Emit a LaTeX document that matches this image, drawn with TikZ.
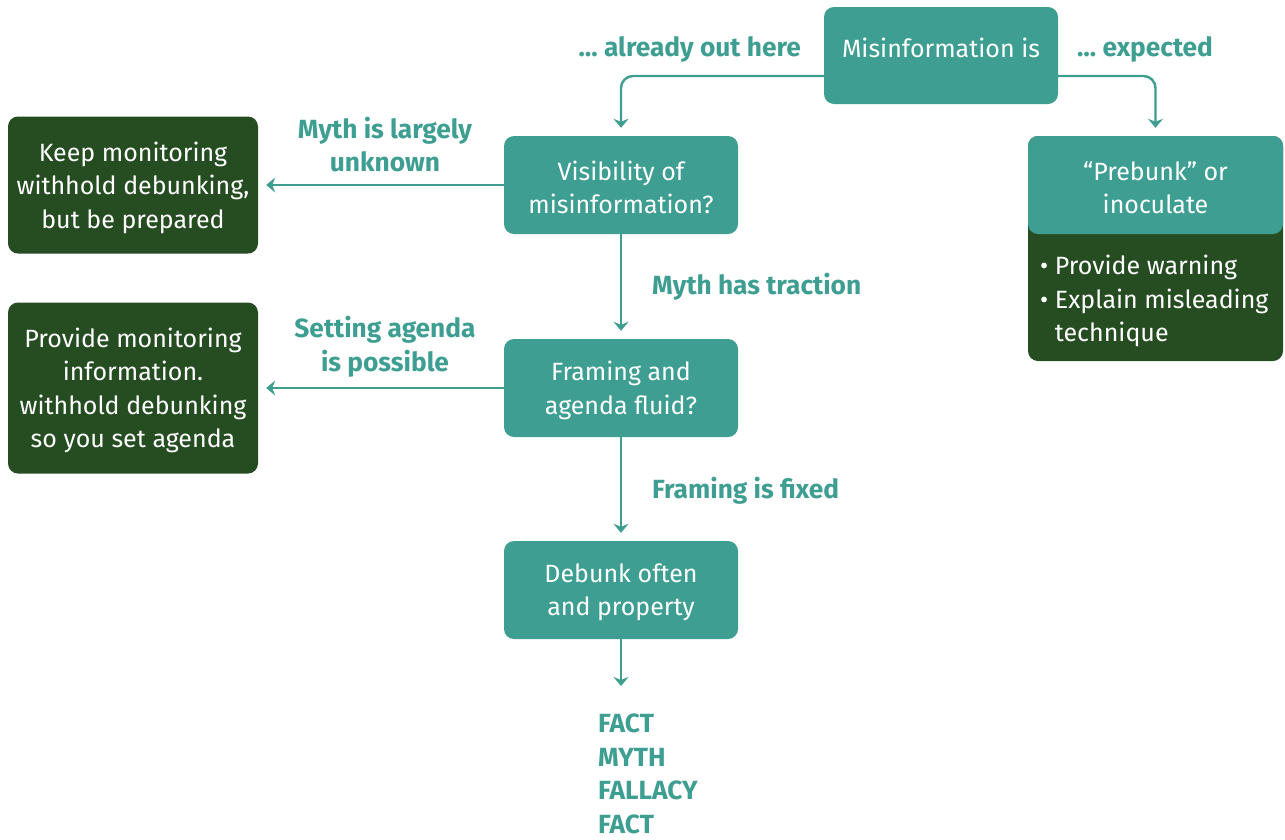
\documentclass[tikz,border=0pt]{standalone}
\usepackage{fontspec}
\setmainfont{Fira Sans}
\usetikzlibrary{arrows.meta}
\definecolor{tealc}{RGB}{61,158,145}
\definecolor{darkg}{RGB}{38,77,34}

\begin{document}
\begin{tikzpicture}[x=1pt,y=-1pt,
  boxfont/.style={font=\fontsize{25}{33.5}\selectfont, text=white, align=center},
  intext/.style={label={[boxfont, yshift=-2.5pt]center:{#1}}},
  tealbox/.style={fill=tealc, rounded corners=10pt, inner sep=0pt, minimum width=234pt, minimum height=98pt},
  greenbox/.style={fill=darkg, rounded corners=10pt, inner sep=0pt, minimum width=250pt},
  lbl/.style={font=\fontsize{26.3}{33.5}\selectfont\bfseries, text=tealc, align=center, inner sep=0pt},
  arr/.style={draw=tealc, line width=2.4pt, -{Stealth[length=9pt,width=15pt,inset=3pt]}}
]
\useasboundingbox (0,0) rectangle (1285,839);

% main chain
\node[tealbox, minimum height=97pt] (mis) at (941,55.5) {};
\node[boxfont] (mistxt) at (941,48) {Misinformation is};
\node[tealbox, intext={Visibility of\\misinformation?}] (vis) at (621,185) {};
\node[tealbox, intext={Framing and\\agenda fluid?}] (fr) at (621,388) {};
\node[tealbox, intext={Debunk often\\and property}] (deb) at (621,590) {};

% outcomes on the left
\node[greenbox, minimum height=137pt, intext={Keep monitoring\\withhold debunking,\\but be prepared}] (keep) at (133,185) {};
\node[greenbox, minimum height=171pt, intext={Provide monitoring\\information.\\withhold debunking\\so you set agenda}] (prov) at (133,388) {};

% prebunk box on the right
\node[fill=darkg, rounded corners=10pt, inner sep=0pt, minimum width=255pt, minimum height=225pt] (pre) at (1155.5,248.5) {};
\node[fill=tealc, rounded corners=10pt, inner sep=0pt, minimum width=255pt, minimum height=98pt, intext={“Prebunk” or\\inoculate}] (pretop) at (1155.5,185) {};
\node[boxfont, align=left, anchor=north west, inner sep=0pt] (prelist) at (1040,255)
  {• Provide warning\\• Explain misleading\\\phantom{• }technique};

% branch labels
\node[lbl, anchor=east] (lout) at (801,49) {… already out here};
\node[lbl, anchor=west] (lexp) at (1077,49) {… expected};
\node[lbl] (lunk) at (385,144.5) {Myth is largely\\unknown};
\node[lbl, anchor=west] (ltrac) at (652,287) {Myth has traction};
\node[lbl] (lset) at (385,346.5) {Setting agenda\\is possible};
\node[lbl, anchor=west] (lfix) at (652,491) {Framing is fixed};

% closing list
\node[lbl, align=left, anchor=north west] (facts) at (598,714)
  {FACT\\MYTH\\FALLACY\\FACT};

% connectors
\coordinate (endpt) at (621,686);
\draw[arr, rounded corners=12pt, shorten >=8pt] (mis.west |- 0,76) -| (vis.north);
\draw[arr, rounded corners=12pt, shorten >=8pt] (mis.east |- 0,76) -| (pretop.north);
\draw[arr, shorten >=8pt] (vis.west) -- (keep.east);
\draw[arr, shorten >=8pt] (fr.west) -- (prov.east);
\draw[arr, shorten >=8pt] (vis.south) -- (fr.north);
\draw[arr, shorten >=8pt] (fr.south) -- (deb.north);
\draw[arr] (deb.south) -- (endpt);
\end{tikzpicture}
\end{document}
